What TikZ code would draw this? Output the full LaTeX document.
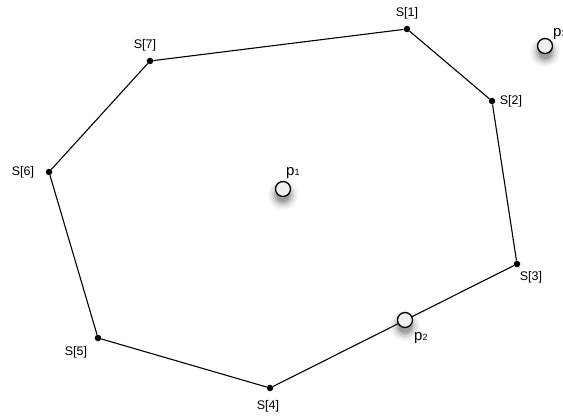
\documentclass[tikz,border=0pt]{standalone}
\usepackage{fontspec}
\setmainfont{Liberation Sans}
\begin{document}
\begin{tikzpicture}[x=1pt,y=-1pt,
  vtx/.style={circle,fill=black,inner sep=0pt,minimum size=6.5pt},
  lbl/.style={font=\fontsize{12.5}{14}\selectfont,inner sep=1pt},
  plbl/.style={font=\fontsize{15}{17}\selectfont,inner sep=0pt,anchor=base west},
  hull/.style={line width=1.1pt},
  pt/.style={circle,draw=black,line width=1.3pt,fill=gray!12,inner sep=0pt,minimum size=15pt}]
\useasboundingbox (0,0) rectangle (563,417);
\clip (0,0) rectangle (563,417);
\node[vtx] (s1) at (407,29) {};
\node[vtx] (s2) at (492,101) {};
\node[vtx] (s3) at (517,264) {};
\node[vtx] (s4) at (270,388) {};
\node[vtx] (s5) at (98,338) {};
\node[vtx] (s6) at (49,172) {};
\node[vtx] (s7) at (150,61) {};
\draw[hull] (s1) -- (s2) -- (s3) -- (s4) -- (s5) -- (s6) -- (s7) -- (s1);
\node[lbl] (l1) at (407,13) {S[1]};
\node[lbl] (l2) at (511,101) {S[2]};
\node[lbl] (l3) at (531,277) {S[3]};
\node[lbl] (l4) at (268,406) {S[4]};
\node[lbl] (l5) at (76,352) {S[5]};
\node[lbl] (l6) at (23,172) {S[6]};
\node[lbl] (l7) at (145,45) {S[7]};
% shadows
\foreach \x/\y in {283/189,405/320,545/46}{
  \foreach \r/\o in {15/0.04,13/0.06,11/0.08,9/0.12,7/0.15}{
    \fill[black,opacity=\o] (\x,\y+6) circle (\r);
  }
}
\node[pt] (p1) at (283,189) {};
\node[pt] (p2) at (405,320) {};
\node[pt] (p3) at (545,46) {};
\node[plbl] (q1) at (286,176) {p{\fontsize{9}{10}\selectfont 1}};
\node[plbl] (q2) at (414,341) {p{\fontsize{9}{10}\selectfont 2}};
\node[plbl] (q3) at (553,37) {p{\fontsize{9}{10}\selectfont 3}};
\end{tikzpicture}
\end{document}
